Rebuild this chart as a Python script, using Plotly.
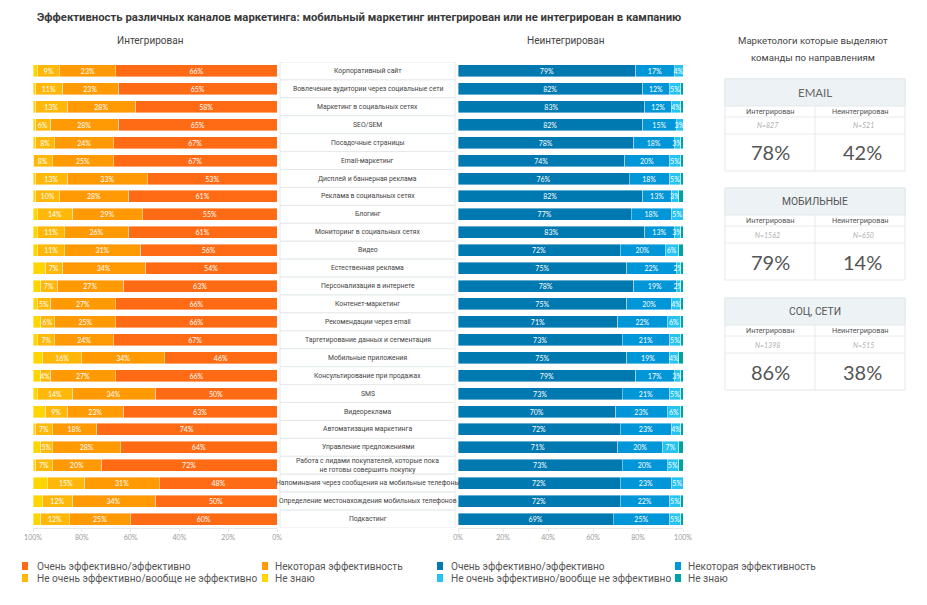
import plotly.graph_objects as go

W, H = 927, 605

categories = [
    "Корпоративный сайт",
    "Вовлечение аудитории через социальные сети",
    "Маркетинг в социальных сетях",
    "SEO/SEM",
    "Посадочные страницы",
    "Email-маркетинг",
    "Дисплей и баннерная реклама",
    "Реклама в социальных сетях",
    "Блогинг",
    "Мониторинг в социальных сетях",
    "Видео",
    "Естественная реклама",
    "Персонализация в интернете",
    "Контенет-маркетинг",
    "Рекомендации через email",
    "Таргетирование данных и сегментация",
    "Мобильные приложения",
    "Консультирование при продажах",
    "SMS",
    "Видеореклама",
    "Автоматизация маркетинга",
    "Управление предложениями",
    "Работа с лидами покупателей, которые пока<br>не готовы совершить покупку",
    "Напоминания через сообщения на мобильные телефоны",
    "Определение местонахождения мобильных телефонов",
    "Подкастинг",
]

# Integrated (left panel)
int_very = [66, 65, 58, 65, 67, 67, 53, 61, 55, 61, 56, 54, 63, 66, 66, 67, 46, 66, 50, 63, 74, 64, 72, 48, 50, 60]
int_some = [23, 23, 28, 28, 24, 25, 33, 28, 29, 26, 31, 34, 27, 27, 25, 24, 34, 27, 34, 23, 18, 28, 20, 31, 34, 25]
int_not = [9, 11, 13, 6, 8, 8, 13, 10, 14, 11, 11, 7, 7, 5, 6, 7, 16, 4, 14, 9, 7, 5, 7, 15, 12, 12]
int_dk = [2, 1, 1, 1, 1, 0, 1, 1, 2, 2, 2, 5, 3, 2, 3, 2, 4, 3, 2, 5, 1, 3, 1, 6, 4, 3]

# Not integrated (right panel)
non_very = [79, 82, 83, 82, 78, 74, 76, 82, 77, 83, 72, 75, 78, 75, 71, 73, 75, 79, 73, 70, 72, 71, 73, 72, 72, 69]
non_some = [17, 12, 12, 15, 18, 20, 18, 13, 18, 13, 20, 22, 19, 20, 22, 21, 19, 17, 21, 23, 23, 20, 20, 23, 22, 25]
non_not = [4, 5, 4, 3, 3, 5, 5, 3, 5, 3, 6, 2, 2, 4, 6, 5, 4, 3, 5, 6, 4, 7, 5, 5, 5, 5]
non_dk = [0, 1, 1, 0, 1, 1, 1, 2, 0, 1, 2, 1, 1, 1, 1, 1, 2, 1, 1, 1, 1, 2, 2, 0, 1, 1]

series_names = ["Очень эффективно/эффективно", "Некоторая эффективность",
                "Не очень эффективно/вообще не эффективно", "Не знаю"]
int_colors = ["#FF6B14", "#FF9A05", "#FFB70A", "#FFD500"]
non_colors = ["#0078B0", "#0096D8", "#25C2F2", "#00A3A3"]

tick_vals = [0, 20, 40, 60, 80, 100]
tick_text = ["0%", "20%", "40%", "60%", "80%", "100%"]

box_titles = ["EMAIL", "МОБИЛЬНЫЕ", "СОЦ, СЕТИ"]
box_n_int = ["N=827", "N=1562", "N=1398"]
box_n_non = ["N=521", "N=650", "N=515"]
box_pct_int = ["78%", "79%", "86%"]
box_pct_non = ["42%", "14%", "38%"]

COND = "Roboto, sans-serif"
GEO = "Lato, Inter, sans-serif"


def px(x):
    return x / W


def py(y):
    return 1 - y / H


fig = go.Figure()

int_series = [int_very, int_some, int_not, int_dk]
non_series = [non_very, non_some, non_not, non_dk]

for k in range(4):
    vals = int_series[k]
    fig.add_trace(go.Bar(
        y=categories, x=vals, orientation="h", name=series_names[k],
        marker=dict(color=int_colors[k], line=dict(color="white", width=0.4)),
        text=[f"{v}%" for v in vals] if k < 3 else None,
        textposition="inside", insidetextanchor="middle", textangle=0,
        textfont=dict(color="white", size=7, family=GEO),
        xaxis="x", yaxis="y", showlegend=False, hoverinfo="x+y",
    ))
for k in range(4):
    vals = non_series[k]
    fig.add_trace(go.Bar(
        y=categories, x=vals, orientation="h", name=series_names[k],
        marker=dict(color=non_colors[k], line=dict(color="white", width=0.4)),
        text=[f"{v}%" for v in vals] if k < 3 else None,
        textposition="inside", insidetextanchor="middle", textangle=0,
        textfont=dict(color="white", size=7, family=GEO),
        xaxis="x2", yaxis="y", showlegend=False, hoverinfo="x+y",
    ))

y_top, y_bot = 62, 528
axis_common = dict(
    tickvals=tick_vals, ticktext=tick_text, showgrid=False, zeroline=False,
    showline=True, linecolor="#e6e6e6", linewidth=1, ticks="outside",
    ticklen=3, tickcolor="#e6e6e6",
    tickfont=dict(size=7, color="#9a9a9a", family=GEO), fixedrange=True,
    automargin=False,
)

fig.update_layout(
    width=W, height=H, margin=dict(l=0, r=0, t=0, b=0, pad=0, autoexpand=False),
    paper_bgcolor="white", plot_bgcolor="rgba(0,0,0,0)",
    barmode="stack", bargap=0.33,
    uniformtext=dict(minsize=7, mode="show"),
    xaxis=dict(domain=[px(33), px(277)], range=[100, 0], anchor="y", **axis_common),
    xaxis2=dict(domain=[px(458), px(683)], range=[0, 100], anchor="y", **axis_common),
    yaxis=dict(domain=[py(y_bot), py(y_top)], range=[len(categories) - 0.5, -0.5],
               type="category", showticklabels=False, showgrid=False, automargin=False,
               zeroline=False, showline=False, fixedrange=True),
    font=dict(family=COND),
)

shapes = []
annotations = []

# center label boxes
for i, cat in enumerate(categories):
    shapes.append(dict(type="rect", xref="paper", yref="y", x0=px(280), x1=px(455),
                       y0=i - 0.5, y1=i + 0.5, line=dict(color="#e4e9ec", width=1),
                       fillcolor="white", layer="below"))
    annotations.append(dict(xref="paper", yref="y", x=px(367.5), y=cat, text=cat,
                            showarrow=False, xanchor="center", yanchor="middle",
                            font=dict(size=6.8, color="#444", family=COND)))

# title and panel headers
annotations.append(dict(xref="paper", yref="paper", x=px(35), y=py(18),
                        text="<b>Эффективность различных каналов маркетинга: мобильный маркетинг интегрирован или не интегрирован в кампанию</b>",
                        showarrow=False, xanchor="left", yanchor="middle",
                        font=dict(size=11.3, color="#3a3a3a", family=COND)))
annotations.append(dict(xref="paper", yref="paper", x=px(150), y=py(40), text="Интегрирован",
                        showarrow=False, xanchor="center", yanchor="middle",
                        font=dict(size=10, color="#444", family=COND)))
annotations.append(dict(xref="paper", yref="paper", x=px(566), y=py(40), text="Неинтегрирован",
                        showarrow=False, xanchor="center", yanchor="middle",
                        font=dict(size=10, color="#444", family=COND)))
for yy, line in ((40, "Маркетологи которые выделяют"), (57, "команды по направлениям")):
    annotations.append(dict(xref="paper", yref="paper", x=px(813), y=py(yy), text=line,
                            showarrow=False, xanchor="center", yanchor="middle",
                            font=dict(size=9.6, color="#444", family=COND)))

# right-hand boxes
box_tops = [79, 188, 298]
bx0, bx1, bmid = 725, 905, 815
for b, top in enumerate(box_tops):
    hb, sb, nb, bot = top + 27, top + 38, top + 55, top + 92
    shapes.append(dict(type="rect", xref="paper", yref="paper", x0=px(bx0), x1=px(bx1),
                       y0=py(bot), y1=py(top), line=dict(color="#e3e8eb", width=1),
                       fillcolor="white", layer="below"))
    shapes.append(dict(type="rect", xref="paper", yref="paper", x0=px(bx0), x1=px(bx1),
                       y0=py(hb), y1=py(top), line=dict(color="#e3e8eb", width=1),
                       fillcolor="#edf2f5", layer="below"))
    for yy in (sb, nb):
        shapes.append(dict(type="line", xref="paper", yref="paper", x0=px(bx0), x1=px(bx1),
                           y0=py(yy), y1=py(yy), line=dict(color="#e6eaed", width=1)))
    shapes.append(dict(type="line", xref="paper", yref="paper", x0=px(bmid), x1=px(bmid),
                       y0=py(hb), y1=py(bot), line=dict(color="#e6eaed", width=1)))
    title_font = dict(size=11.5, color="#666", family=GEO) if b == 0 else dict(size=10.3, color="#555", family=COND)
    annotations.append(dict(xref="paper", yref="paper", x=px(815), y=py(top + 13.5),
                            text=box_titles[b], showarrow=False, xanchor="center",
                            yanchor="middle", font=title_font))
    for xc, lab in ((770, "Интегрирован"), (860, "Неинтегрирован")):
        annotations.append(dict(xref="paper", yref="paper", x=px(xc), y=py(top + 32.5),
                                text=lab, showarrow=False, xanchor="center", yanchor="middle",
                                font=dict(size=7.3, color="#555", family=COND)))
    for xc, lab in ((767, box_n_int[b]), (863, box_n_non[b])):
        annotations.append(dict(xref="paper", yref="paper", x=px(xc), y=py(top + 46.5),
                                text=f"<i>{lab}</i>", showarrow=False, xanchor="center",
                                yanchor="middle", font=dict(size=7, color="#b0b0b0", family=GEO)))
    for xc, lab in ((770, box_pct_int[b]), (862, box_pct_non[b])):
        annotations.append(dict(xref="paper", yref="paper", x=px(xc), y=py(top + 73.5),
                                text=lab, showarrow=False, xanchor="center", yanchor="middle",
                                font=dict(size=20, color="#555", family=GEO)))

# legends
leg_cols = [(22, 35), (262, 273), (437, 449), (675, 686)]
leg_rows = [566, 578]
legend_items = [
    (0, 0, int_colors[0], series_names[0]),
    (1, 0, int_colors[1], series_names[1]),
    (0, 1, int_colors[2], series_names[2]),
    (1, 1, int_colors[3], series_names[3]),
    (2, 0, non_colors[0], series_names[0]),
    (3, 0, non_colors[1], series_names[1]),
    (2, 1, non_colors[2], series_names[2]),
    (3, 1, non_colors[3], series_names[3]),
]
for col, row, color, name in legend_items:
    sx, tx = leg_cols[col]
    yy = leg_rows[row]
    shapes.append(dict(type="rect", xref="paper", yref="paper", x0=px(sx), x1=px(sx + 6),
                       y0=py(yy + 4), y1=py(yy - 4), line=dict(width=0), fillcolor=color))
    annotations.append(dict(xref="paper", yref="paper", x=px(tx), y=py(yy), text=name,
                            showarrow=False, xanchor="left", yanchor="middle",
                            font=dict(size=10.1, color="#555", family=COND)))

fig.update_layout(shapes=shapes, annotations=annotations)
fig.write_html(
    "out.html",
    config={"displayModeBar": False},
    post_script="document.body.style.margin='0px';document.documentElement.style.overflow='hidden';",
)
